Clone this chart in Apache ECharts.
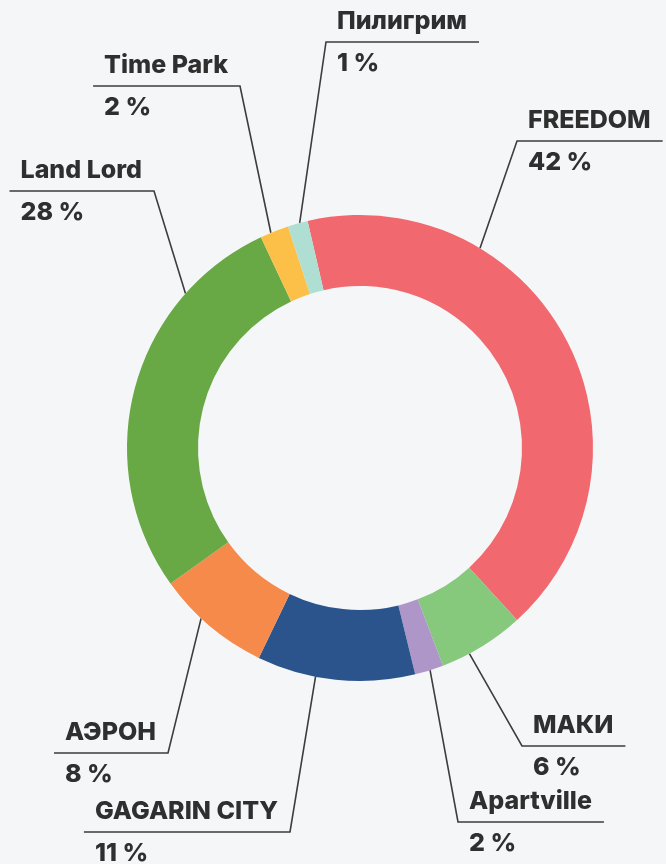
<!DOCTYPE html>
<html>
<head>
<meta charset="utf-8">
<script src="https://cdn.jsdelivr.net/npm/echarts@6/dist/echarts.min.js"></script>
<style>
	html, body { margin: 0; padding: 0; background: #f5f6f8; }
	#chart { width: 666px; height: 864px; }
</style>
</head>
<body>
<div id="chart"></div>
<script>
	// data, clockwise from the top
	var names = ['FREEDOM', 'МАКИ', 'Apartville', 'GAGARIN CITY', 'АЭРОН', 'Land Lord', 'Time Park', 'Пилигрим'];
	var shares = [42, 6, 2, 11, 8, 28, 2, 1];
	var colors = ['#f1686f', '#86c97d', '#ae96c8', '#2b548d', '#f58a4b', '#68a845', '#fcc048', '#aedfd2'];

	// where each label line leaves the ring (deg clockwise from 12 o'clock) and where it bends
	var spots = [
		{ angle: 31, x: 517, y: 141, side: 'right' },
		{ angle: 152, x: 522, y: 746, side: 'right' },
		{ angle: 162.5, x: 458, y: 822, side: 'right' },
		{ angle: 191, x: 290, y: 832, side: 'left' },
		{ angle: 223, x: 168, y: 753, side: 'left' },
		{ angle: 311.5, x: 154, y: 191, side: 'left' },
		{ angle: 337.5, x: 240, y: 86, side: 'left' },
		{ angle: 345, x: 326, y: 42, side: 'right' }
	];

	var cx = 360, cy = 448, rIn = 162, rOut = 233;
	var padL = 11, padR = 12;

	var dom = document.getElementById('chart');
	var myChart = echarts.init(dom, null, { renderer: 'canvas' });

	var data = names.map(function (n, i) {
		return { name: n, value: shares[i], itemStyle: { color: colors[i] } };
	});

	var textStyle = { fontFamily: 'Inter', fontSize: 25, fontWeight: 800, color: '#2f2f2f', lineHeight: 42 };

	var option = {
		backgroundColor: '#f5f6f8',
		animation: false,
		series: [{
			type: 'pie',
			center: [cx, cy],
			radius: [rIn, rOut],
			startAngle: 103,
			clockwise: true,
			minAngle: 5,
			avoidLabelOverlap: false,
			data: data,
			label: {
				show: true,
				position: 'outer',
				formatter: '{n|{b}}\n{p|{c} %}',
				rich: {
					n: textStyle,
					p: textStyle
				}
			},
			labelLine: {
				show: true,
				length: 10,
				length2: 10,
				lineStyle: { color: '#3d3d3d', width: 1.6 }
			},
			labelLayout: function (params) {
				var s = spots[params.dataIndex];
				var a = s.angle * Math.PI / 180;
				var ax = cx + rOut * Math.sin(a);
				var ay = cy - rOut * Math.cos(a);
				var w = params.labelRect.width + padL + padR;
				var right = s.side === 'right';
				var lineEnd = right ? s.x + w : s.x - w;
				return {
					x: (right ? s.x : lineEnd) + padL,
					y: s.y,
					align: 'left',
					verticalAlign: 'middle',
					labelLinePoints: [[ax, ay], [s.x, s.y], [lineEnd, s.y]]
				};
			}
		}]
	};

	myChart.setOption(option);
	window.addEventListener('resize', myChart.resize);
</script>
</body>
</html>
